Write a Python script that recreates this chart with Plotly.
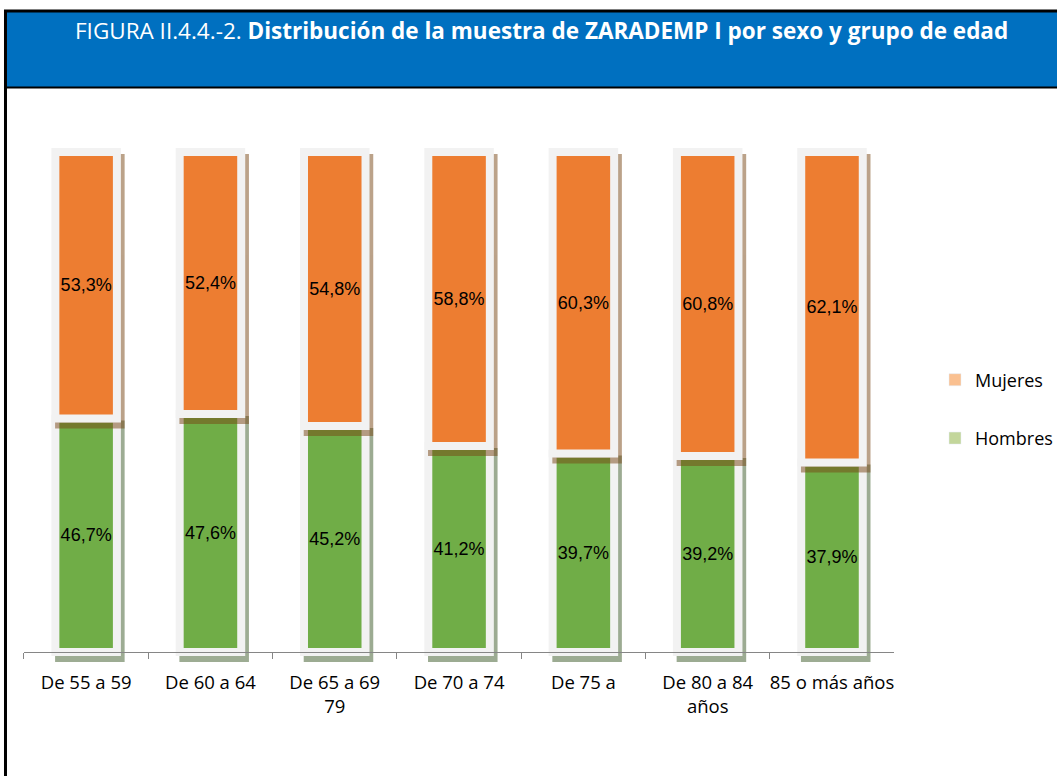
import plotly.graph_objects as go

# datos de la figura (porcentajes por grupo de edad)
categorias = ["De 55 a 59", "De 60 a 64", "De 65 a 69<br>79", "De 70 a 74",
              "De 75 a", "De 80 a 84<br>años", "85 o más años"]
mujeres = [53.3, 52.4, 54.8, 58.8, 60.3, 60.8, 62.1]
hombres = [46.7, 47.6, 45.2, 41.2, 39.7, 39.2, 37.9]

W, H = 1058, 776
NARANJA = "#ed7d31"
VERDE = "#70ad47"
MARCO = "#f2f2f2"

def px_x(p):
    return p / W

def px_y(p):
    return 1 - p / H

fig = go.Figure()

# entradas de leyenda (colores mas claros como en el original); tambien fijan las categorias del eje base
fig.add_trace(go.Bar(x=categorias, y=[None] * len(categorias), name="Mujeres", marker_color="#fac090",
                     legendgroup="m", xaxis="x", yaxis="y", hoverinfo="skip"))
fig.add_trace(go.Bar(x=categorias, y=[None] * len(categorias), name="Hombres", marker_color="#c3d69b",
                     legendgroup="h", xaxis="x", yaxis="y", hoverinfo="skip"))

# sombra hombres
fig.add_trace(go.Bar(x=categorias, y=hombres, width=0.495, showlegend=False,
                     marker=dict(color="rgb(60,90,40)", line=dict(color="rgb(60,90,40)", width=8)),
                     opacity=0.5, xaxis="x2", yaxis="y2", hoverinfo="skip"))
# hombres
fig.add_trace(go.Bar(x=categorias, y=hombres, width=0.495, showlegend=False, name="Hombres",
                     marker=dict(color=VERDE, line=dict(color=MARCO, width=8)),
                     texttemplate="%{y:.1f}%", textposition="inside", insidetextanchor="middle",
                     textangle=0, constraintext="none",
                     textfont=dict(family="Liberation Sans, Arial", size=18, color="black"),
                     xaxis="x3", yaxis="y3"))
# sombra mujeres
fig.add_trace(go.Bar(x=categorias, y=mujeres, base=hombres, width=0.495, showlegend=False,
                     marker=dict(color="rgb(120,70,20)", line=dict(color="rgb(120,70,20)", width=8)),
                     opacity=0.5, xaxis="x4", yaxis="y4", hoverinfo="skip"))
# mujeres
fig.add_trace(go.Bar(x=categorias, y=mujeres, base=hombres, width=0.495, showlegend=False, name="Mujeres",
                     marker=dict(color=NARANJA, line=dict(color=MARCO, width=8)),
                     texttemplate="%{y:.1f}%", textposition="inside", insidetextanchor="middle",
                     textangle=0, constraintext="none",
                     textfont=dict(family="Liberation Sans, Arial", size=18, color="black"),
                     xaxis="x5", yaxis="y5"))

xr = [-0.5, 6.5]
yr = [-3.2, 102.4]
dx = 0.03   # desplazamiento de la sombra a la derecha
dy = 1.2    # desplazamiento de la sombra hacia abajo
ydom = [px_y(668), px_y(140)]

oculto = dict(visible=False, fixedrange=True)
fig.update_layout(
    width=W, height=H, autosize=False,
    margin=dict(l=0, r=0, t=0, b=0),
    paper_bgcolor="white", plot_bgcolor="rgba(0,0,0,0)",
    barmode="overlay",
    separators=",.",
    showlegend=True,
    xaxis=dict(domain=[px_x(24), px_x(895)], range=xr, type="category",
               categoryorder="array", categoryarray=categorias,
               anchor="free", position=px_y(652),
               showline=True, linecolor="#868686", linewidth=1,
               ticks="outside", ticklen=6, tickcolor="#868686", tickson="boundaries",
               tickangle=0, ticklabelstandoff=14,
               showgrid=False, tickfont=dict(family="Open Sans", size=18.5, color="black")),
    yaxis=dict(domain=ydom, range=yr, **oculto),
    xaxis2=dict(overlaying="x", anchor="y2", range=[xr[0] - dx, xr[1] - dx], type="category", **oculto),
    yaxis2=dict(overlaying="y", anchor="x2", range=[yr[0] + dy, yr[1] + dy], **oculto),
    xaxis3=dict(overlaying="x", anchor="y3", range=xr, type="category", **oculto),
    yaxis3=dict(overlaying="y", anchor="x3", range=yr, **oculto),
    xaxis4=dict(overlaying="x", anchor="y4", range=[xr[0] - dx, xr[1] - dx], type="category", **oculto),
    yaxis4=dict(overlaying="y", anchor="x4", range=[yr[0] + dy, yr[1] + dy], **oculto),
    xaxis5=dict(overlaying="x", anchor="y5", range=xr, type="category", **oculto),
    yaxis5=dict(overlaying="y", anchor="x5", range=yr, **oculto),
    legend=dict(x=px_x(936), y=px_y(409), xanchor="left", yanchor="middle",
                bgcolor="rgba(0,0,0,0)", traceorder="grouped", tracegroupgap=32,
                font=dict(family="Open Sans", size=18, color="black")),
)

# cabecera azul y bordes negros
fig.add_shape(type="rect", xref="paper", yref="paper", x0=px_x(7), x1=1, y0=px_y(87), y1=px_y(12),
              fillcolor="#0070c0", line_width=0, layer="below")
fig.add_shape(type="line", xref="paper", yref="paper", x0=px_x(4), x1=1, y0=px_y(11), y1=px_y(11),
              line=dict(color="black", width=3))
fig.add_shape(type="line", xref="paper", yref="paper", x0=px_x(5.5), x1=px_x(5.5), y0=0, y1=px_y(10),
              line=dict(color="black", width=3))
fig.add_shape(type="line", xref="paper", yref="paper", x0=px_x(4), x1=1, y0=px_y(87.5), y1=px_y(87.5),
              line=dict(color="black", width=2))

fig.add_annotation(xref="paper", yref="paper", x=px_x(542), y=px_y(31), xanchor="center", yanchor="middle",
                   showarrow=False,
                   text="FIGURA II.4.4.-2. <b>Distribución de la muestra de ZARADEMP I por sexo y grupo de edad</b>",
                   font=dict(family="Open Sans", size=22.5, color="white"))

# sin margen del body para que la figura ocupe la ventana entera
fig.write_html("out.html", config={"responsive": False, "displayModeBar": False},
               post_script="document.body.style.margin='0';")
